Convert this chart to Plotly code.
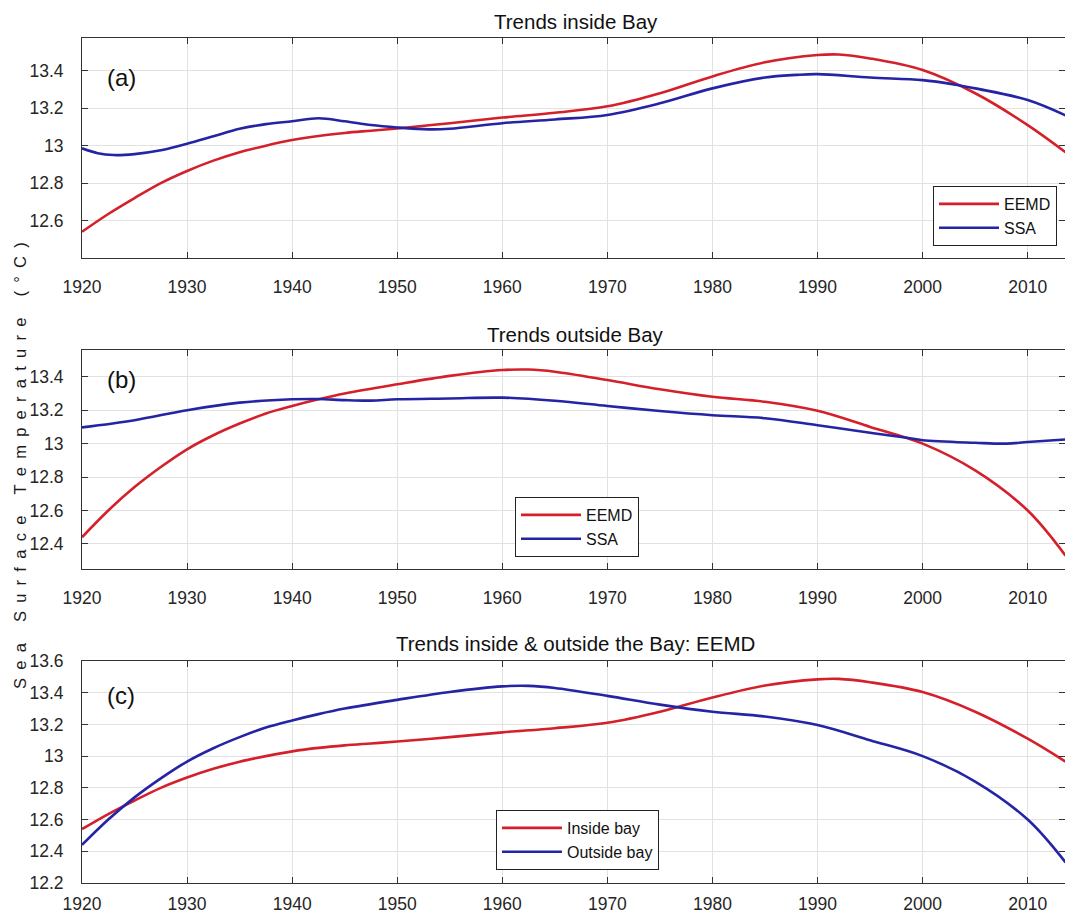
import plotly.graph_objects as go

# ---------------- data ----------------
in_eemd_years = [1920, 1922.5, 1925, 1927.5, 1930, 1932.5, 1935, 1937.5, 1940, 1942.5, 1945, 1947.5,
                 1950, 1955, 1960, 1965, 1970, 1975, 1980, 1985, 1990, 1992, 1995, 2000, 2005, 2010, 2013.6]
in_eemd = [12.54, 12.635, 12.72, 12.80, 12.865, 12.92, 12.965, 13.0, 13.03, 13.052, 13.068, 13.08,
           13.092, 13.12, 13.15, 13.176, 13.21, 13.28, 13.37, 13.445, 13.484, 13.487, 13.466, 13.404,
           13.28, 13.11, 12.965]

in_ssa_years = [1920, 1921.5, 1923, 1925, 1927.5, 1930, 1932.5, 1935, 1937.5, 1940, 1942.5, 1945, 1947.5,
                1950, 1953, 1955, 1960, 1965, 1970, 1975, 1980, 1985, 1988, 1990, 1995, 2000, 2003,
                2005, 2010, 2013.6]
in_ssa = [12.986, 12.96, 12.95, 12.955, 12.975, 13.01, 13.05, 13.09, 13.115, 13.13, 13.146, 13.13, 13.11,
          13.097, 13.087, 13.09, 13.12, 13.14, 13.164, 13.226, 13.306, 13.364, 13.378, 13.382, 13.364,
          13.35, 13.327, 13.306, 13.244, 13.162]

out_eemd_years = [1920, 1922.5, 1925, 1927.5, 1930, 1932.5, 1935, 1937.5, 1940, 1942.5, 1945, 1950,
                  1955, 1960, 1962.5, 1965, 1970, 1975, 1980, 1985, 1990, 1995, 2000, 2005, 2010, 2013.6]
out_eemd = [12.44, 12.60, 12.74, 12.86, 12.966, 13.05, 13.12, 13.18, 13.225, 13.265, 13.3, 13.355,
            13.405, 13.44, 13.443, 13.43, 13.38, 13.325, 13.28, 13.25, 13.196, 13.1, 13.0, 12.84,
            12.6, 12.33]

out_ssa_years = [1920, 1925, 1930, 1935, 1940, 1942.5, 1945, 1947.5, 1950, 1955, 1960, 1965, 1970,
                 1975, 1980, 1985, 1990, 1995, 1998.5, 2000, 2005, 2008, 2010, 2013.6]
out_ssa = [13.097, 13.14, 13.2, 13.245, 13.265, 13.267, 13.26, 13.257, 13.265, 13.27, 13.275, 13.256,
           13.225, 13.195, 13.17, 13.152, 13.11, 13.065, 13.035, 13.02, 13.005, 13.0, 13.01, 13.025]

x_ticks = [1920, 1930, 1940, 1950, 1960, 1970, 1980, 1990, 2000, 2010]
x_ticklabels = ["1920", "1930", "1940", "1950", "1960", "1970", "1980", "1990", "2000", "2010"]
y_ticks_a = [12.6, 12.8, 13.0, 13.2, 13.4]
y_ticklabels_a = ["12.6", "12.8", "13", "13.2", "13.4"]
y_ticks_b = [12.4, 12.6, 12.8, 13.0, 13.2, 13.4]
y_ticklabels_b = ["12.4", "12.6", "12.8", "13", "13.2", "13.4"]
y_ticks_c = [12.2, 12.4, 12.6, 12.8, 13.0, 13.2, 13.4, 13.6]
y_ticklabels_c = ["12.2", "12.4", "12.6", "12.8", "13", "13.2", "13.4", "13.6"]

titles = ["Trends inside Bay", "Trends outside Bay", "Trends inside & outside the Bay: EEMD"]
panel_labels = ["(a)", "(b)", "(c)"]
y_title = "Sea Surface Temperature (°C)"

# ---------------- styling ----------------
W, H = 1065, 915
RED = "#d4202a"
BLUE = "#2424a4"
FONT = "Liberation Sans, Arial, sans-serif"
TXT = "#262626"

x_left = 82 / W
panels_px = [(38, 258), (350, 569), (661, 883)]  # top, bottom in px
ydomains = [[1 - b / H, 1 - t / H] for t, b in panels_px]
yranges = [[12.4, 13.575], [12.25, 13.56], [12.2, 13.6]]
xrange_ = [1920, 2013.55]
x_standoffs = [13, 13, 5]

fig = go.Figure()

series = [
    (in_eemd_years, in_eemd, "EEMD", RED, 1, "legend"),
    (in_ssa_years, in_ssa, "SSA", BLUE, 1, "legend"),
    (out_eemd_years, out_eemd, "EEMD", RED, 2, "legend2"),
    (out_ssa_years, out_ssa, "SSA", BLUE, 2, "legend2"),
    (in_eemd_years, in_eemd, "Inside bay", RED, 3, "legend3"),
    (out_eemd_years, out_eemd, "Outside bay", BLUE, 3, "legend3"),
]
for xs, ys, name, col, p, leg in series:
    suffix = "" if p == 1 else str(p)
    fig.add_trace(go.Scatter(
        x=xs, y=ys, name=name, mode="lines",
        line=dict(color=col, width=2.6, shape="spline", smoothing=1.0),
        xaxis="x" + suffix, yaxis="y" + suffix, legend=leg, showlegend=True,
    ))

axis_common = dict(
    showline=True, linecolor="#333333", linewidth=1, mirror="ticks",
    ticks="inside", ticklen=6, tickcolor="#333333", tickwidth=1,
    showgrid=True, gridcolor="#e2e2e2", gridwidth=1, zeroline=False,
    automargin=False,
    tickfont=dict(family=FONT, size=17.5, color=TXT),
)

ytick_sets = [(y_ticks_a, y_ticklabels_a), (y_ticks_b, y_ticklabels_b), (y_ticks_c, y_ticklabels_c)]
layout = {}
for i in range(3):
    suffix = "" if i == 0 else str(i + 1)
    layout["xaxis" + suffix] = dict(
        axis_common, domain=[x_left, 1.0], range=xrange_, anchor="y" + suffix,
        tickmode="array", tickvals=x_ticks, ticktext=x_ticklabels, ticklabelstandoff=x_standoffs[i],
    )
    layout["yaxis" + suffix] = dict(
        axis_common, domain=ydomains[i], range=yranges[i], anchor="x" + suffix,
        tickmode="array", tickvals=ytick_sets[i][0], ticktext=ytick_sets[i][1], ticklabelstandoff=14,
    )

legend_common = dict(
    bgcolor="white", bordercolor="#222222", borderwidth=1,
    font=dict(family=FONT, size=16, color="#111111"),
    xanchor="left", yanchor="top", itemwidth=60, tracegroupgap=0,
)
layout["legend"] = dict(legend_common, x=933 / W, y=1 - 186 / H)
layout["legend2"] = dict(legend_common, x=515 / W, y=1 - 497 / H)
layout["legend3"] = dict(legend_common, x=496 / W, y=1 - 810 / H)

annotations = []
title_centers = [22, 334, 643]
label_centers = [77, 379, 695]
for i in range(3):
    annotations.append(dict(
        text=titles[i], xref="paper", yref="paper", x=576 / W, y=1 - title_centers[i] / H,
        xanchor="center", yanchor="middle", showarrow=False,
        font=dict(family=FONT, size=20.5, color="#111111"),
    ))
    annotations.append(dict(
        text=panel_labels[i], xref="paper", yref="paper", x=105 / W, y=1 - label_centers[i] / H,
        xanchor="left", yanchor="middle", showarrow=False,
        font=dict(family=FONT, size=24, color="#111111"),
    ))

# letter-spaced vertical axis title, as in the reference
spaced = "\u2002".join(list(y_title))
annotations.append(dict(
    text=spaced, xref="paper", yref="paper", x=20 / W, y=1 - 466 / H,
    xanchor="center", yanchor="middle", textangle=-90, showarrow=False,
    font=dict(family=FONT, size=16.5, color="#1a1a1a"),
))

fig.update_layout(
    template="none",
    width=W, height=H, autosize=False,
    margin=dict(l=0, r=0, t=0, b=0, pad=0, autoexpand=False),
    paper_bgcolor="white", plot_bgcolor="white",
    annotations=annotations, **layout,
)

fig.write_html("out.html", config={"displayModeBar": False})
